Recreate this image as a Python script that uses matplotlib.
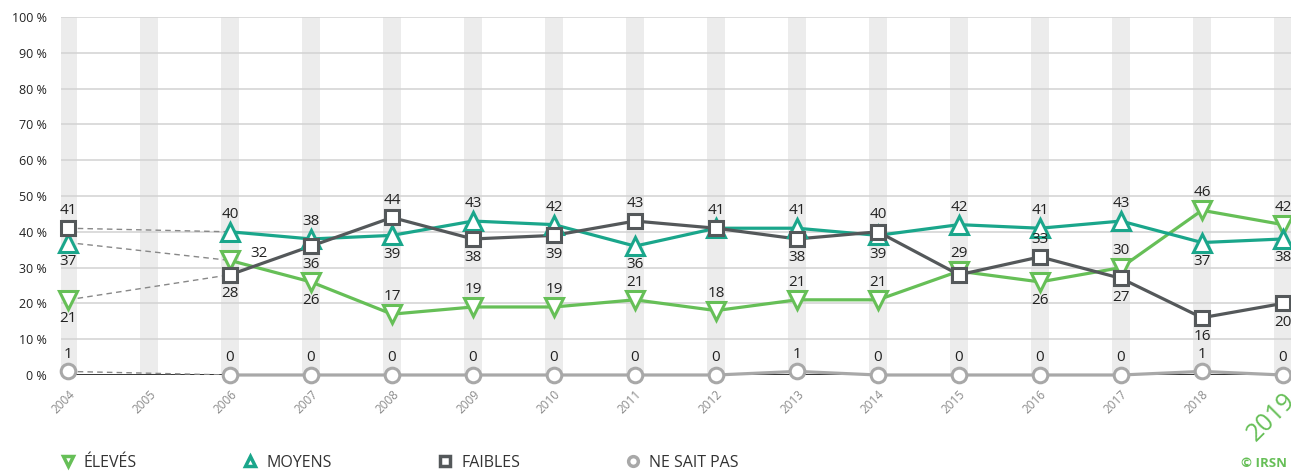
import numpy as np
import matplotlib.pyplot as plt
from matplotlib.lines import Line2D

plt.rcParams['font.family'] = ['Open Sans', 'DejaVu Sans']

# data (2005: no survey)
years = [2004, 2006, 2007, 2008, 2009, 2010, 2011, 2012, 2013, 2014, 2015, 2016, 2017, 2018, 2019]
all_years = list(range(2004, 2020))
eleves = [21, 32, 26, 17, 19, 19, 21, 18, 21, 21, 29, 26, 30, 46, 42]
moyens = [37, 40, 38, 39, 43, 42, 36, 41, 41, 39, 42, 41, 43, 37, 38]
faibles = [41, 28, 36, 44, 38, 39, 43, 41, 38, 40, 28, 33, 27, 16, 20]
nsp = [1, 0, 0, 0, 0, 0, 0, 0, 1, 0, 0, 0, 0, 1, 0]

# label placement: 'a' above, 'b' below, 'r' right, '' hidden
pos_eleves = ['b', 'r', 'b', 'a', 'a', 'a', 'a', 'a', 'a', 'a', 'a', 'b', 'a', 'a', 'a']
pos_moyens = ['b', 'a', 'a', 'b', 'a', 'a', 'b', 'a', 'a', 'b', 'a', 'a', 'a', 'b', 'b']
pos_faibles = ['a', 'b', 'b', 'a', 'b', 'b', 'a', '', 'b', 'a', '', 'a', 'b', 'b', 'b']
pos_nsp = ['a'] * 15

series = [
    ('ÉLEVÉS', eleves, pos_eleves, '#66bf57', 'v', 12.5),
    ('MOYENS', moyens, pos_moyens, '#1aa68b', '^', 12.5),
    ('FAIBLES', faibles, pos_faibles, '#54585a', 's', 10.5),
    ('NE SAIT PAS', nsp, pos_nsp, '#a8a8a8', 'o', 10.5),
]

W, H = 1291, 473
fig = plt.figure(figsize=(W / 100, H / 100), dpi=100)
ax = fig.add_axes([61 / W, (H - 375) / H, 1230 / W, 358 / H])
ax.set_xlim(2004 - 7 / 81, 2019 + 8 / 81)
ax.set_ylim(0, 100)

# background bands and grid
for y in all_years:
    ax.axvspan(y - 0.105, y + 0.105, color='#ececec', lw=0, zorder=0)
for v in range(10, 101, 10):
    ax.axhline(v, color='#d2d2d2', lw=1.1, zorder=1)
ax.axhline(0, color='#222222', lw=2, zorder=1)

for s in ax.spines.values():
    s.set_visible(False)

# dashed links across the 2005 gap
first = sorted([s[1][0] for s in series], reverse=True)
second = sorted([s[1][1] for s in series], reverse=True)
for a, b in zip(first, second):
    ax.plot([years[0], years[1]], [a, b], ls=(0, (4, 3)), color='#888888', lw=1, zorder=2)

offsets = {'a': (0, 12.5), 'b': (0, -13.5), 'r': (15, 5)}
handles = []
for name, vals, pos, col, mk, ms in series:
    ax.plot(years[1:], vals[1:], color=col, lw=2.3, zorder=3, clip_on=False)
    ax.plot(years, vals, ls='none', marker=mk, ms=ms, mfc='white', mec=col, mew=2.2,
            zorder=4, clip_on=False)
    for x, v, p in zip(years, vals, pos):
        if not p:
            continue
        ax.annotate(str(v), (x, v), xytext=offsets[p], textcoords='offset points',
                    ha='center' if p != 'r' else 'left', va='center',
                    fontsize=11, color='#222222', zorder=5)
    handles.append(Line2D([], [], ls='none', marker=mk, ms=7, mfc='white', mec=col, mew=2.5,
                          label=name))

ax.set_yticks(range(0, 101, 10))
ax.set_yticklabels([f'{v} %' for v in range(0, 101, 10)], fontsize=9, color='#222222')
ax.tick_params(axis='y', length=0, pad=10)
ax.set_xticks(all_years)
ax.set_xticklabels([str(y) for y in all_years], rotation=45, ha='right',
                   rotation_mode='anchor', fontsize=8.5, color='#8a8a8a')
ax.tick_params(axis='x', length=0, pad=9)
last = ax.get_xticklabels()[-1]
last.set_fontsize(18)
last.set_color('#66bf57')

leg = fig.legend(handles=handles, loc='center left', bbox_to_anchor=(52 / W, 1 - 463 / H),
                 ncol=4, frameon=False, fontsize=11.5, handlelength=1.0, handletextpad=0.5,
                 columnspacing=6.6, borderpad=0)
for t in leg.get_texts():
    t.set_color('#333333')

fig.text(1 - 4 / W, 1 - 463 / H, '© IRSN', ha='right', va='center', fontsize=9.5,
         color='#66bf57', fontweight='bold')

fig.savefig('out.png', dpi=100)
